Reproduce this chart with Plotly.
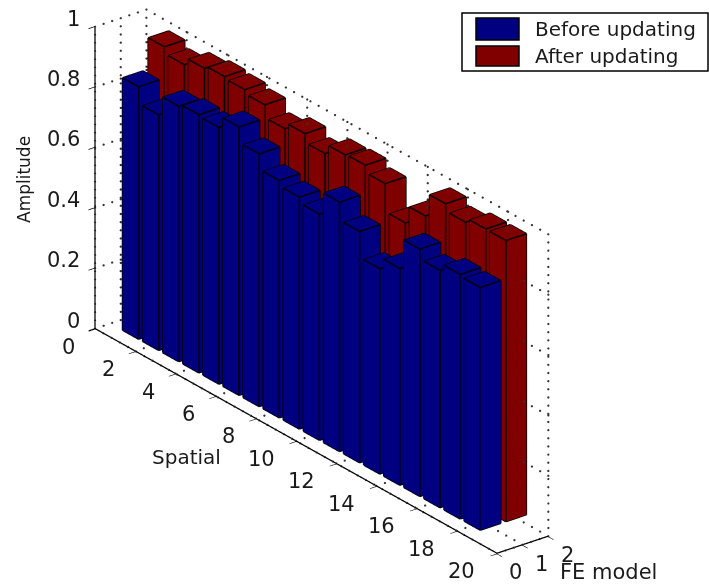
import math
import numpy as np
import plotly.graph_objects as go

spatial = list(range(1, 19))
before = [.836,.78,.846,.855,.85,.889,.837,.786,.768,.749,.826,.766,.68,.718,.819,.786,.81,.804]
after = [.94,.918,.943,.953,.947,.934,.892,.913,.884,.917,.92,.896,.803,.863,.941,.917,.932,.931]
series_names = ["Before updating", "After updating"]
series_colors = ["#000080", "#800000"]
x_ticks = [0,2,4,6,8,10,12,14,16,18,20]
y_ticks = [0,1,2]
z_ticks = [0,.2,.4,.6,.8,1]
z_labels = ["0","0.2","0.4","0.6","0.8","1"]
W = 0.4
FONT = "DejaVu Sans"
INK = "#1a1a1a"

def bars(yc, vals, color, name):
    X, Y, Z, I, J, K = [], [], [], [], [], []
    ex, ey, ez = [], [], []
    for c, h in zip(spatial, vals):
        n = len(X)
        x0, x1, y0, y1 = c-W, c+W, yc-W, yc+W
        X += [x0,x1,x1,x0,x0,x1,x1,x0]
        Y += [y0,y0,y1,y1,y0,y0,y1,y1]
        Z += [0,0,0,0,h,h,h,h]
        for a,b,d in [(0,1,2),(0,2,3),(4,5,6),(4,6,7),(0,1,5),(0,5,4),(1,2,6),(1,6,5),(2,3,7),(2,7,6),(3,0,4),(3,4,7)]:
            I.append(n+a); J.append(n+b); K.append(n+d)
        for a,b in [(4,5),(5,6),(6,7),(7,4),(0,4),(1,5),(2,6),(3,7),(0,1),(1,2),(2,3),(3,0)]:
            ex += [X[n+a],X[n+b],None]; ey += [Y[n+a],Y[n+b],None]; ez += [Z[n+a],Z[n+b],None]
    return [go.Mesh3d(x=X,y=Y,z=Z,i=I,j=J,k=K,color=color,flatshading=True,name=name,hoverinfo="skip",
                      lighting=dict(ambient=1,diffuse=0,specular=0,fresnel=0,roughness=1)),
            go.Scatter3d(x=ex,y=ey,z=ez,mode="lines",line=dict(color="black",width=3),hoverinfo="skip",showlegend=False)]

traces = bars(1, before, series_colors[0], series_names[0]) + bars(2, after, series_colors[1], series_names[1])

xm, ym, zm = x_ticks[-1], y_ticks[-1], z_ticks[-1]
gx, gy, gz = [], [], []
def seg(a, b, n):
    for s in np.linspace(0, 1, n):
        gx.append(a[0]+(b[0]-a[0])*s); gy.append(a[1]+(b[1]-a[1])*s); gz.append(a[2]+(b[2]-a[2])*s)
for t in x_ticks:
    seg((t,0,0),(t,ym,0),7); seg((t,ym,0),(t,ym,zm),38)
for t in y_ticks:
    seg((0,t,0),(xm,t,0),50); seg((0,t,0),(0,t,zm),38)
for t in z_ticks:
    seg((0,0,t),(0,ym,t),7); seg((0,ym,t),(xm,ym,t),50)
traces.append(go.Scatter3d(x=gx,y=gy,z=gz,mode="markers",marker=dict(color="#333333",size=1.3,line=dict(width=0)),hoverinfo="skip",showlegend=False))
traces.append(go.Scatter3d(x=[0,0,None,0,xm,None,xm,xm],y=[0,0,None,0,0,None,0,ym],z=[0,zm,None,0,0,None,0,0],
                           mode="lines",line=dict(color="black",width=2.5),hoverinfo="skip",showlegend=False))

def ax(rng, vals):
    return dict(range=rng, tickvals=vals, ticktext=[""]*len(vals), title=dict(text=""), showgrid=False, showline=False,
                zeroline=False, showbackground=False, showspikes=False, ticks="outside", ticklen=8, tickcolor="black",
                tickwidth=1.5, tickangle=0, tickfont=dict(family=FONT,size=1,color="white"))

tick_font = dict(family=FONT,size=21,color=INK)
scene_notes = []
for t in x_ticks:
    scene_notes.append(dict(x=t,y=0,z=0,text=str(t),showarrow=False,xshift=-27 if t < 10 else -35,yshift=-18,font=tick_font))
for t in y_ticks:
    scene_notes.append(dict(x=xm,y=t,z=0,text=str(t),showarrow=False,xshift=19,yshift=-19,font=tick_font))
for t, s in zip(z_ticks, z_labels):
    scene_notes.append(dict(x=0,y=0,z=t,text=s,showarrow=False,xanchor="right",xshift=-13,yshift=8,font=tick_font))

a = math.radians(52.3); e = math.radians(25.6); R = 1.95
h = math.cos(e)*R
cx, cy, cz = .0905*math.cos(a), .0905*math.sin(a), -.0483
fig = go.Figure(traces)
fig.update_layout(
    width=709, height=584, margin=dict(l=0,r=0,t=0,b=0), paper_bgcolor="white", showlegend=False,
    scene=dict(domain=dict(x=[0,1],y=[0,1]),
        xaxis=ax([-.01,20.01],x_ticks), yaxis=ax([-.002,2.5],y_ticks), zaxis=ax([-.002,1.002],z_ticks),
        aspectmode="manual", aspectratio=dict(x=2.253,y=.278,z=1.151),
        annotations=scene_notes,
        camera=dict(projection=dict(type="orthographic"),up=dict(x=0,y=0,z=1),center=dict(x=cx,y=cy,z=cz),
                    eye=dict(x=cx+h*math.sin(a),y=cy-h*math.cos(a),z=cz+R*math.sin(e)))),
    shapes=[
        dict(type="rect",xref="paper",yref="paper",x0=462/709,x1=708/709,y0=1-71/584,y1=1-13/584,line=dict(color="black",width=1.5),fillcolor="white"),
        dict(type="rect",xref="paper",yref="paper",x0=476/709,x1=519/709,y0=1-40/584,y1=1-18/584,line=dict(color="black",width=1.5),fillcolor=series_colors[0]),
        dict(type="rect",xref="paper",yref="paper",x0=476/709,x1=519/709,y0=1-66/584,y1=1-46/584,line=dict(color="black",width=1.5),fillcolor=series_colors[1]),
    ],
    annotations=[
        dict(text=series_names[0],x=533/709,y=1-29/584,xref="paper",yref="paper",xanchor="left",yanchor="middle",showarrow=False,font=dict(family=FONT,size=20,color=INK)),
        dict(text=series_names[1],x=533/709,y=1-56/584,xref="paper",yref="paper",xanchor="left",yanchor="middle",showarrow=False,font=dict(family=FONT,size=20,color=INK)),
        dict(text="Amplitude",x=24/709,y=1-180/584,xref="paper",yref="paper",xanchor="center",yanchor="middle",textangle=-90,showarrow=False,font=dict(family=FONT,size=17,color=INK)),
        dict(text="Spatial",x=187/709,y=1-457/584,xref="paper",yref="paper",xanchor="center",yanchor="middle",showarrow=False,font=dict(family=FONT,size=20,color=INK)),
        dict(text="FE model",x=608/709,y=1-572/584,xref="paper",yref="paper",xanchor="center",yanchor="middle",showarrow=False,font=dict(family=FONT,size=21,color=INK)),
    ])
fig.write_html("out.html", config=dict(displayModeBar=False), post_script="document.body.style.margin='0';document.body.style.overflow='hidden';")
